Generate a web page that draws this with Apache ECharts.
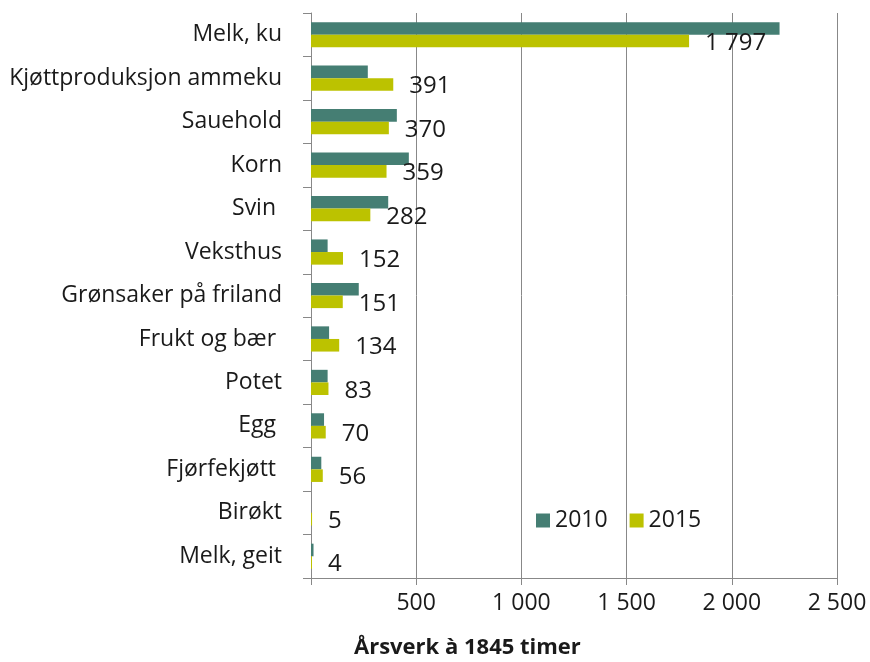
<!DOCTYPE html>
<html>
<head>
<meta charset="utf-8">
<script src="https://cdn.jsdelivr.net/npm/echarts@6/dist/echarts.min.js"></script>
<style>
  html, body { margin: 0; padding: 0; background: #fff; }
  #chart { width: 870px; height: 662px; }
</style>
</head>
<body>
<div id="chart"></div>
<script>
// Årsverk per produksjon, 2010 og 2015
const categories = [
  'Melk, ku', 'Kjøttproduksjon ammeku', 'Sauehold', 'Korn', 'Svin ',
  'Veksthus', 'Grønsaker på friland', 'Frukt og bær ', 'Potet', 'Egg ',
  'Fjørfekjøtt ', 'Birøkt', 'Melk, geit'
];
const values2010 = [2227, 270, 408, 465, 367, 79, 227, 86, 79, 62, 49, 0, 12];
const values2015 = [1797, 391, 370, 359, 282, 152, 151, 134, 83, 70, 56, 5, 4];
const seriesNames = ['2010', '2015'];
const xTicks = { min: 0, max: 2500, interval: 500 };

const FONT = '"Open Sans", sans-serif';
const AXIS_GREY = '#888888';
const TEXT = '#1a1a1a';

// thousands separated by a space, e.g. 1 797
function fmt(v) {
  return String(v).replace(/\B(?=(\d{3})+(?!\d))/g, ' ');
}

const chart = echarts.init(document.getElementById('chart'), null, { renderer: 'canvas' });

chart.setOption({
  animation: false,
  backgroundColor: '#ffffff',
  textStyle: { fontFamily: FONT },
  title: {
    text: 'Årsverk à 1845 timer',
    left: 354,
    top: 637,
    padding: 0,
    textStyle: { fontFamily: FONT, fontSize: 22, fontWeight: 'bold', color: TEXT }
  },
  legend: {
    data: seriesNames,
    left: 536,
    top: 509,
    icon: 'rect',
    itemWidth: 14,
    itemHeight: 14,
    itemGap: 22,
    padding: 0,
    textStyle: { fontFamily: FONT, fontSize: 23, color: TEXT }
  },
  grid: { left: 311, right: 33, top: 13, bottom: 84, containLabel: false },
  xAxis: {
    type: 'value',
    min: xTicks.min,
    max: xTicks.max,
    interval: xTicks.interval,
    axisLine: { show: true, lineStyle: { color: AXIS_GREY, width: 1 } },
    axisTick: { show: true, length: 7, lineStyle: { color: AXIS_GREY } },
    splitLine: { show: true, lineStyle: { color: AXIS_GREY, width: 1 } },
    axisLabel: {
      margin: 14,
      fontFamily: FONT,
      fontSize: 23,
      color: TEXT,
      formatter: v => (v === 0 ? '' : fmt(v))
    }
  },
  yAxis: {
    type: 'category',
    data: categories,
    inverse: true,
    axisLine: { show: true, lineStyle: { color: AXIS_GREY, width: 1 } },
    axisTick: { show: true, length: 8, alignWithLabel: false, lineStyle: { color: AXIS_GREY } },
    splitLine: { show: false },
    axisLabel: {
      margin: 29,
      fontFamily: FONT,
      fontSize: 23,
      color: TEXT
    }
  },
  series: [
    {
      name: seriesNames[0],
      type: 'bar',
      data: values2010,
      barGap: '0%',
      barCategoryGap: '42%',
      itemStyle: { color: '#457E73' }
    },
    {
      name: seriesNames[1],
      type: 'bar',
      data: values2015,
      barGap: '0%',
      barCategoryGap: '42%',
      barMinHeight: 1,
      itemStyle: { color: '#BCC200' },
      label: {
        show: true,
        position: 'right',
        distance: 16,
        offset: [0, 2],
        fontFamily: FONT,
        fontSize: 24,
        color: TEXT,
        formatter: p => fmt(p.value)
      }
    }
  ]
});
</script>
</body>
</html>
